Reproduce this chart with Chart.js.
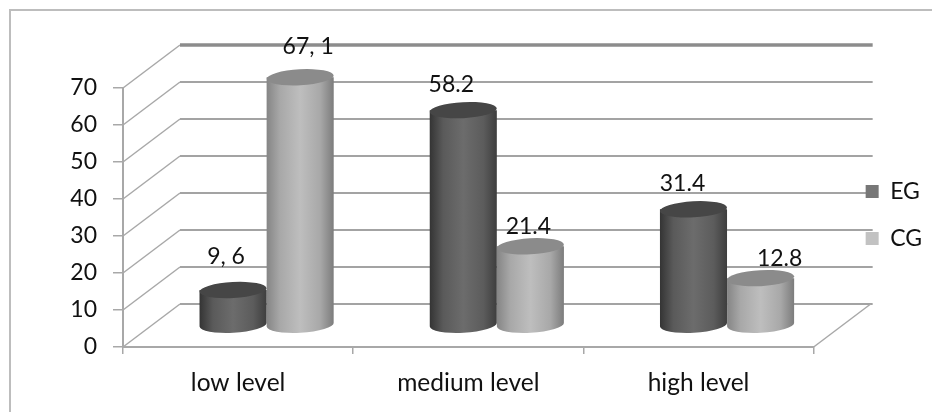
<!DOCTYPE html>
<html>
<head>
<meta charset="utf-8">
<style>
  html, body { margin: 0; padding: 0; background: #fff; }
  #wrap { position: relative; width: 932px; height: 412px; overflow: hidden; }
  #frame { position: absolute; left: 9px; top: 9px; right: -5px; bottom: -5px; border: 1px solid #bdbdbd; border-width: 2px 0 0 2px; }
  canvas { position: absolute; left: 0; top: 0; filter: blur(0.45px); }
</style>
<script src="https://cdn.jsdelivr.net/npm/chart.js@4"></script>
</head>
<body>
<div id="wrap">
  <div id="frame"></div>
  <canvas id="chart" width="932" height="412"></canvas>
</div>
<script>
const categories = ["low level", "medium level", "high level"];
const egValues = [9.6, 58.2, 31.4];
const cgValues = [67.1, 21.4, 12.8];
const egLabels = ["9, 6", "58.2", "31.4"];
const cgLabels = ["67, 1", "21.4", "12.8"];

// depth of the fake 3D box, in px
const DEPTH_X = 57;
const DEPTH_Y = -43;
const FONT = "Lato";

// label nudges [dx, dy] from the top of each cylinder
const egNudge = [[-7, -33], [-12, -26], [-11, -26]];
const cgNudge = [[8, -31], [-2, -20], [19, -20]];

const shades = [
  { stops: ["#343434", "#5a5a5a", "#6c6c6c", "#5c5c5c", "#3e3e3e"], top: "#464646" },
  { stops: ["#858585", "#a8a8a8", "#bebebe", "#a8a8a8", "#7c7c7c"], top: "#8b8b8b" }
];

// -------------------------------------
// Back wall and floor
// -------------------------------------
const box3d = {
  id: "box3d",
  afterLayout(chart) {
    // legend sits higher than the middle of the full canvas height
    chart.legend.bottom -= 70;
  },
  // beforeDraw so the legend boxes end up on top of the wall lines
  beforeDraw(chart) {
    const { ctx, chartArea: a, scales: { y } } = chart;
    ctx.save();
    y.ticks.forEach((t, i) => {
      const py = y.getPixelForTick(i);
      // slanted side wall
      ctx.strokeStyle = "#a8a8a8";
      ctx.lineWidth = 1.5;
      ctx.beginPath();
      ctx.moveTo(a.left, py);
      ctx.lineTo(a.left + DEPTH_X, py + DEPTH_Y);
      ctx.stroke();
      // back wall
      ctx.strokeStyle = t.value === 70 ? "#8c8c8c" : "#a3a3a3";
      ctx.lineWidth = t.value === 70 ? 3.5 : 2.2;
      ctx.beginPath();
      ctx.moveTo(a.left + DEPTH_X, py + DEPTH_Y);
      ctx.lineTo(a.right + DEPTH_X + 2, py + DEPTH_Y);
      ctx.stroke();
    });
    // right edge of the floor
    ctx.strokeStyle = "#a8a8a8";
    ctx.lineWidth = 1.5;
    ctx.beginPath();
    ctx.moveTo(a.right, a.bottom);
    ctx.lineTo(a.right + DEPTH_X, a.bottom + DEPTH_Y);
    ctx.stroke();
    ctx.restore();
  }
};

// -------------------------------------
// Cylinders, from the bar elements
// -------------------------------------
const cylinders = {
  id: "cylinders",
  beforeDatasetDraw(chart, args) {
    const { ctx } = chart;
    const shade = shades[args.index];
    const tilt = -0.055;
    ctx.save();
    chart.getDatasetMeta(args.index).data.forEach((bar) => {
      const cx = bar.x + DEPTH_X / 2;
      const rx = bar.width / 2;
      const ry = 8;
      const topY = bar.y + DEPTH_Y / 2;
      const baseY = bar.base + DEPTH_Y / 2;
      const g = ctx.createLinearGradient(cx - rx, 0, cx + rx, 0);
      shade.stops.forEach((c, i) => g.addColorStop([0, 0.2, 0.5, 0.8, 1][i], c));
      ctx.fillStyle = g;
      ctx.beginPath();
      ctx.ellipse(cx, baseY, rx, ry, tilt, 0, Math.PI);
      ctx.lineTo(cx - rx, topY);
      ctx.lineTo(cx + rx, topY);
      ctx.closePath();
      ctx.fill();
      ctx.fillStyle = shade.top;
      ctx.beginPath();
      ctx.ellipse(cx, topY, rx, ry, tilt, 0, Math.PI * 2);
      ctx.fill();
    });
    ctx.restore();
    return false;
  }
};

// -------------------------------------
// Value labels
// -------------------------------------
const valueLabels = {
  id: "valueLabels",
  afterDatasetsDraw(chart) {
    const { ctx } = chart;
    ctx.save();
    ctx.font = "23px " + FONT;
    ctx.fillStyle = "#111";
    ctx.textAlign = "center";
    ctx.textBaseline = "middle";
    [[egLabels, egNudge], [cgLabels, cgNudge]].forEach(([texts, nudge], ds) => {
      chart.getDatasetMeta(ds).data.forEach((bar, i) => {
        const x = bar.x + DEPTH_X / 2 + nudge[i][0];
        const y = bar.y + DEPTH_Y / 2 + nudge[i][1];
        ctx.fillText(texts[i], x, y);
      });
    });
    ctx.restore();
  }
};

new Chart(document.getElementById("chart"), {
  type: "bar",
  data: {
    labels: categories,
    datasets: [
      { label: "EG", data: egValues, backgroundColor: "#777777" },
      { label: "CG", data: cgValues, backgroundColor: "#c2c2c2" }
    ]
  },
  options: {
    responsive: false,
    animation: false,
    devicePixelRatio: 1,
    layout: { padding: { top: 88, left: 0, right: 0, bottom: 0 } },
    datasets: { bar: { categoryPercentage: 0.583, barPercentage: 1 } },
    scales: {
      x: {
        grid: { drawOnChartArea: false, color: "#a8a8a8", lineWidth: 1.5, tickLength: 7, offset: true },
        border: { color: "#a8a8a8", width: 2 },
        ticks: { color: "#111", font: { family: FONT, size: 24.5 }, padding: 14, maxRotation: 0 },
        afterFit: (s) => { s.height = 65; }
      },
      y: {
        min: 0,
        max: 70,
        grid: { drawOnChartArea: false, color: "#a8a8a8", lineWidth: 1.5, tickLength: 10 },
        border: { color: "#a8a8a8", width: 2 },
        ticks: { stepSize: 10, color: "#111", font: { family: FONT, size: 23 }, padding: 16 },
        afterFit: (s) => { s.width = 123; }
      },
      spacer: {
        position: "right",
        display: true,
        grid: { display: false },
        border: { display: false },
        ticks: { display: false },
        afterFit: (s) => { s.width = 28; }
      }
    },
    plugins: {
      tooltip: { enabled: false },
      legend: {
        position: "right",
        labels: {
          color: "#111",
          font: { family: FONT, size: 23 },
          boxWidth: 13,
          boxHeight: 13,
          padding: 24
        }
      }
    }
  },
  plugins: [box3d, cylinders, valueLabels]
});
</script>
</body>
</html>
